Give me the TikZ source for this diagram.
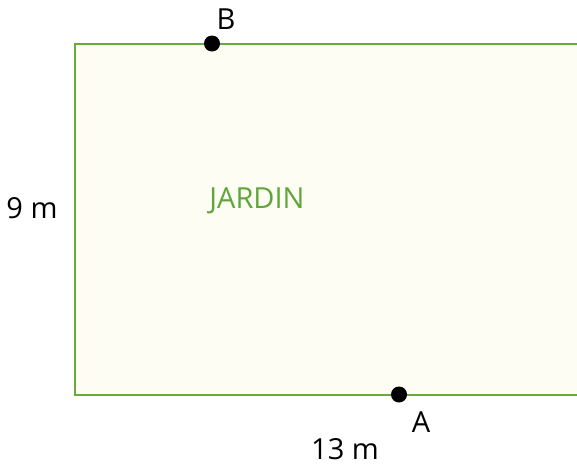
\documentclass[tikz,border=0pt]{standalone}
\usepackage{fontspec}
\setmainfont{Open Sans}
\definecolor{gardenline}{HTML}{6AAA3A}
\definecolor{gardenfill}{HTML}{FDFDF4}
\definecolor{gardentext}{HTML}{5FA63A}
\begin{document}
\begin{tikzpicture}[x=1pt,y=-1pt,
  lbl/.style={font=\fontsize{29}{32}\selectfont, text=black, inner sep=0pt},
  pt/.style={circle, fill=black, minimum size=16pt, inner sep=0pt}]
\useasboundingbox (0,0) rectangle (577,466);
\begin{scope}
\clip (0,0) rectangle (577,466);
\draw[gardenline, line width=2pt, fill=gardenfill] (74.5,43.5) rectangle (600,394.5);
\end{scope}
\node[pt] (B) at (212,43.5) {};
\node[pt] (A) at (399,394.5) {};
\node[lbl] (lB) at (226,19) {B};
\node[lbl] (lA) at (421,422) {A};
\node[lbl] (l13) at (345,449) {13 m};
\node[lbl] (l9) at (32,208) {9 m};
\node[lbl, text=gardentext] (jardin) at (257,201) {JARDIN};
\end{tikzpicture}
\end{document}
